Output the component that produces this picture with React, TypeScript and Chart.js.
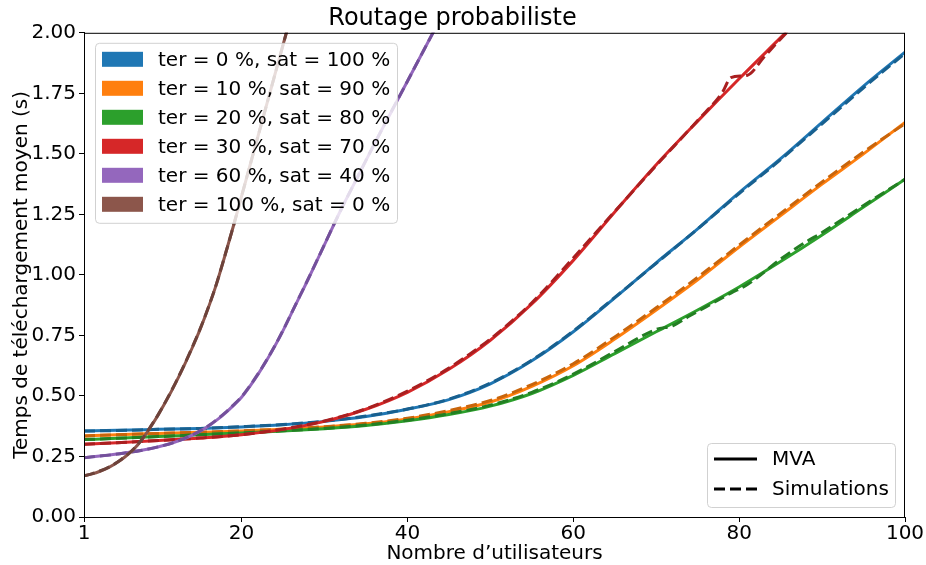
import React, { useEffect, useRef } from "react";
import { Chart, registerables } from "chart.js";

Chart.register(...registerables);

// ---------- data ----------
const TITLE = "Routage probabiliste";
const X_LABEL = "Nombre d’utilisateurs";
const Y_LABEL = "Temps de téléchargement moyen (s)";
const X_TICKS = [1, 20, 40, 60, 80, 100];

const SERIES_LABELS = [
  "ter = 0 %, sat = 100 %",
  "ter = 10 %, sat = 90 %",
  "ter = 20 %, sat = 80 %",
  "ter = 30 %, sat = 70 %",
  "ter = 60 %, sat = 40 %",
  "ter = 100 %, sat = 0 %",
];
const COLORS = ["#1f77b4", "#ff7f0e", "#2ca02c", "#d62728", "#9467bd", "#8c564b"];
const SIM_COLORS = ["#18608f", "#c9650b", "#237f23", "#a91f20", "#73509a", "#6c423a"];

const X_COMMON = [1, 5, 10, 15, 20, 25, 30, 35, 40, 45, 50, 55, 60, 65, 70, 75, 80, 85, 90, 95, 100];

// ter = 0 %
const MVA_TER0 = [0.355, 0.358, 0.362, 0.366, 0.372, 0.381, 0.395, 0.415, 0.445, 0.485, 0.55, 0.645, 0.765, 0.905, 1.05, 1.19, 1.34, 1.48, 1.63, 1.78, 1.92];
const SIM_TER0 = [0.355, 0.357, 0.362, 0.366, 0.373, 0.382, 0.396, 0.417, 0.446, 0.487, 0.553, 0.648, 0.768, 0.907, 1.048, 1.19, 1.336, 1.476, 1.624, 1.773, 1.915];

// ter = 10 %
const MVA_TER10 = [0.335, 0.34, 0.345, 0.35, 0.355, 0.362, 0.372, 0.385, 0.405, 0.435, 0.475, 0.54, 0.625, 0.735, 0.855, 0.98, 1.115, 1.245, 1.375, 1.5, 1.63];
const SIM_TER10 = [0.335, 0.34, 0.345, 0.35, 0.356, 0.363, 0.373, 0.387, 0.408, 0.44, 0.481, 0.547, 0.633, 0.744, 0.864, 0.99, 1.123, 1.254, 1.384, 1.508, 1.625];

// ter = 20 %
const MVA_TER20 = [0.32, 0.325, 0.332, 0.34, 0.347, 0.355, 0.365, 0.378, 0.397, 0.423, 0.458, 0.51, 0.585, 0.675, 0.765, 0.855, 0.95, 1.055, 1.165, 1.28, 1.395];
const X_SIM_TER20 = [1, 5, 10, 15, 20, 25, 30, 35, 40, 45, 50, 55, 60, 65, 70, 72, 74, 76, 79, 81, 85, 88, 90, 95, 100];
const SIM_TER20 = [0.32, 0.325, 0.332, 0.34, 0.347, 0.356, 0.366, 0.38, 0.4, 0.427, 0.462, 0.515, 0.59, 0.683, 0.775, 0.79, 0.83, 0.868, 0.925, 0.96, 1.065, 1.135, 1.175, 1.287, 1.395];

// ter = 30 %
const MVA_TER30 = [0.3, 0.307, 0.316, 0.326, 0.34, 0.362, 0.395, 0.445, 0.515, 0.61, 0.73, 0.88, 1.06, 1.26, 1.455, 1.635, 1.81, 1.98, 2.15, 2.32, 2.49];
const X_SIM_TER30 = [1, 5, 10, 15, 20, 25, 30, 35, 40, 45, 48, 50, 55, 60, 65, 70, 75, 78, 79, 81, 83, 85, 90];
const SIM_TER30 = [0.3, 0.307, 0.316, 0.326, 0.34, 0.363, 0.397, 0.447, 0.52, 0.615, 0.685, 0.735, 0.885, 1.07, 1.262, 1.452, 1.638, 1.755, 1.815, 1.825, 1.9, 1.975, 2.15];

// ter = 60 %
const X_TER60 = [1, 5, 10, 13, 15, 16, 17, 18, 19, 20, 21, 22, 23, 24, 25, 26, 27, 28, 30, 32, 34, 36, 38, 40, 42, 44];
const MVA_TER60 = [0.245, 0.26, 0.29, 0.322, 0.355, 0.375, 0.4, 0.428, 0.46, 0.495, 0.54, 0.59, 0.645, 0.705, 0.77, 0.84, 0.91, 0.98, 1.125, 1.27, 1.405, 1.54, 1.67, 1.8, 1.93, 2.06];
const SIM_TER60 = [0.245, 0.26, 0.29, 0.323, 0.356, 0.377, 0.402, 0.43, 0.462, 0.497, 0.542, 0.592, 0.647, 0.706, 0.771, 0.841, 0.911, 0.981, 1.126, 1.27, 1.405, 1.54, 1.671, 1.8, 1.93, 2.06];

// ter = 100 %
const X_TER100 = [1, 2, 3, 4, 5, 6, 7, 8, 9, 10, 11, 12, 13, 14, 15, 16, 17, 18, 19, 20, 21, 22, 23, 24, 25, 26, 27];
const MVA_TER100 = [0.17, 0.178, 0.19, 0.205, 0.225, 0.25, 0.28, 0.32, 0.37, 0.425, 0.485, 0.55, 0.62, 0.695, 0.775, 0.865, 0.965, 1.08, 1.2, 1.325, 1.45, 1.575, 1.7, 1.825, 1.95, 2.075, 2.2];
const SIM_TER100 = [0.17, 0.179, 0.191, 0.206, 0.226, 0.251, 0.282, 0.322, 0.372, 0.426, 0.487, 0.552, 0.622, 0.697, 0.777, 0.866, 0.966, 1.081, 1.2, 1.325, 1.45, 1.575, 1.7, 1.825, 1.95, 2.075, 2.2];

const MVA_X = [X_COMMON, X_COMMON, X_COMMON, X_COMMON, X_TER60, X_TER100];
const MVA_Y = [MVA_TER0, MVA_TER10, MVA_TER20, MVA_TER30, MVA_TER60, MVA_TER100];
const SIM_X = [X_COMMON, X_COMMON, X_SIM_TER20, X_SIM_TER30, X_TER60, X_TER100];
const SIM_Y = [SIM_TER0, SIM_TER10, SIM_TER20, SIM_TER30, SIM_TER60, SIM_TER100];

const STYLE_LEGEND = ["MVA", "Simulations"];

const FONT = '"DejaVu Sans", sans-serif';

function toPoints(xs: number[], ys: number[]) {
  return xs.map((x, i) => ({ x, y: ys[i] }));
}

function roundRect(ctx: CanvasRenderingContext2D, x: number, y: number, w: number, h: number, r: number) {
  ctx.beginPath();
  ctx.moveTo(x + r, y);
  ctx.lineTo(x + w - r, y);
  ctx.quadraticCurveTo(x + w, y, x + w, y + r);
  ctx.lineTo(x + w, y + h - r);
  ctx.quadraticCurveTo(x + w, y + h, x + w - r, y + h);
  ctx.lineTo(x + r, y + h);
  ctx.quadraticCurveTo(x, y + h, x, y + h - r);
  ctx.lineTo(x, y + r);
  ctx.quadraticCurveTo(x, y, x + r, y);
  ctx.closePath();
}

const framePlugin = {
  id: "frameAndLegends",
  afterDatasetsDraw(chart: any) {
    const { ctx, chartArea } = chart;
    const { left, top, right, bottom } = chartArea;
    ctx.save();
    // spines
    ctx.strokeStyle = "#000";
    ctx.lineWidth = 1;
    ctx.strokeRect(left + 0.5, top + 0.5, right - left - 1, bottom - top);

    ctx.font = `20px ${FONT}`;
    ctx.textBaseline = "middle";
    ctx.textAlign = "left";

    // legend 1 (series colours)
    const l1x = left + 11, l1y = top + 10, l1w = 302, l1h = 180;
    roundRect(ctx, l1x + 0.5, l1y + 0.5, l1w, l1h, 4);
    ctx.fillStyle = "rgba(255,255,255,0.8)";
    ctx.fill();
    ctx.strokeStyle = "rgba(204,204,204,0.9)";
    ctx.lineWidth = 1;
    ctx.stroke();
    SERIES_LABELS.forEach((lab, i) => {
      const cy = l1y + 16.5 + i * 29;
      ctx.fillStyle = COLORS[i];
      ctx.fillRect(l1x + 7, cy - 7.5, 41, 15);
      ctx.fillStyle = "#000";
      ctx.fillText(lab, l1x + 63, cy + 1);
    });

    // legend 2 (line styles)
    const l2x = right - 198, l2y = bottom - 74, l2w = 188, l2h = 64;
    roundRect(ctx, l2x + 0.5, l2y + 0.5, l2w, l2h, 4);
    ctx.fillStyle = "rgba(255,255,255,0.8)";
    ctx.fill();
    ctx.strokeStyle = "rgba(204,204,204,0.9)";
    ctx.stroke();
    STYLE_LEGEND.forEach((lab, i) => {
      const cy = l2y + 16 + i * 30;
      ctx.strokeStyle = "#000";
      ctx.lineWidth = 3;
      ctx.setLineDash(i === 0 ? [] : [11, 5]);
      ctx.beginPath();
      ctx.moveTo(l2x + 7, cy);
      ctx.lineTo(l2x + 50, cy);
      ctx.stroke();
      ctx.setLineDash([]);
      ctx.fillStyle = "#000";
      ctx.fillText(lab, l2x + 65, cy + 1);
    });
    ctx.restore();
  },
};

export default function App() {
  const ref = useRef<HTMLCanvasElement | null>(null);

  useEffect(() => {
    if (!ref.current) return;
    const datasets: any[] = [];
    for (let i = 0; i < SERIES_LABELS.length; i++) {
      datasets.push({
        label: SERIES_LABELS[i] + " (MVA)",
        data: toPoints(MVA_X[i], MVA_Y[i]),
        borderColor: COLORS[i],
        backgroundColor: COLORS[i],
        borderWidth: 3,
        pointRadius: 0,
        cubicInterpolationMode: "monotone",
        fill: false,
      });
      datasets.push({
        label: SERIES_LABELS[i] + " (Simulations)",
        data: toPoints(SIM_X[i], SIM_Y[i]),
        borderColor: SIM_COLORS[i],
        backgroundColor: SIM_COLORS[i],
        borderWidth: 3,
        borderDash: [11, 5],
        pointRadius: 0,
        cubicInterpolationMode: "monotone",
        fill: false,
      });
    }
    // Chart.js draws the first dataset on top; matplotlib draws later ones on top
    datasets.reverse();

    const chart = new Chart(ref.current, {
      type: "line",
      data: { datasets },
      options: {
        animation: false,
        responsive: false,
        maintainAspectRatio: false,
        layout: { padding: { right: 21, left: 0, bottom: 0, top: 0 } },
        plugins: {
          legend: { display: false },
          tooltip: { enabled: false },
          title: {
            display: true,
            text: TITLE,
            color: "#000",
            font: { family: FONT, size: 24, weight: "normal" },
            padding: { top: 4, bottom: 0 },
          },
        },
        scales: {
          x: {
            type: "linear",
            min: 1,
            max: 100,
            afterBuildTicks: (scale: any) => {
              scale.ticks = X_TICKS.map((v) => ({ value: v }));
            },
            afterFit: (scale: any) => {
              scale.height = 48;
            },
            ticks: {
              color: "#000",
              font: { family: FONT, size: 20 },
              padding: 0,
              maxRotation: 0,
              autoSkip: false,
              callback: (v: any) => String(v),
            },
            grid: { drawOnChartArea: false, drawTicks: true, tickLength: 5, color: "#000" },
            border: { display: true, color: "#000", width: 1 },
            title: {
              display: true,
              text: X_LABEL,
              color: "#000",
              font: { family: FONT, size: 20 },
              padding: { top: 0, bottom: -1 },
            },
          },
          y: {
            type: "linear",
            min: 0,
            max: 2,
            afterFit: (scale: any) => {
              scale.width = 84;
            },
            ticks: {
              stepSize: 0.25,
              color: "#000",
              font: { family: FONT, size: 20 },
              padding: 3,
              callback: (v: any) => Number(v).toFixed(2),
            },
            grid: { drawOnChartArea: false, drawTicks: true, tickLength: 5, color: "#000" },
            border: { display: true, color: "#000", width: 1 },
            title: {
              display: true,
              text: Y_LABEL,
              color: "#000",
              font: { family: FONT, size: 20 },
              padding: { top: 10, bottom: 0 },
            },
          },
        },
      },
      plugins: [framePlugin],
    });
    return () => chart.destroy();
  }, []);

  return (
    <div style={{ position: "absolute", left: 0, top: 0, width: 926, height: 565, background: "#fff" }}>
      <canvas ref={ref} width={926} height={565} style={{ width: 926, height: 565 }} />
    </div>
  );
}
